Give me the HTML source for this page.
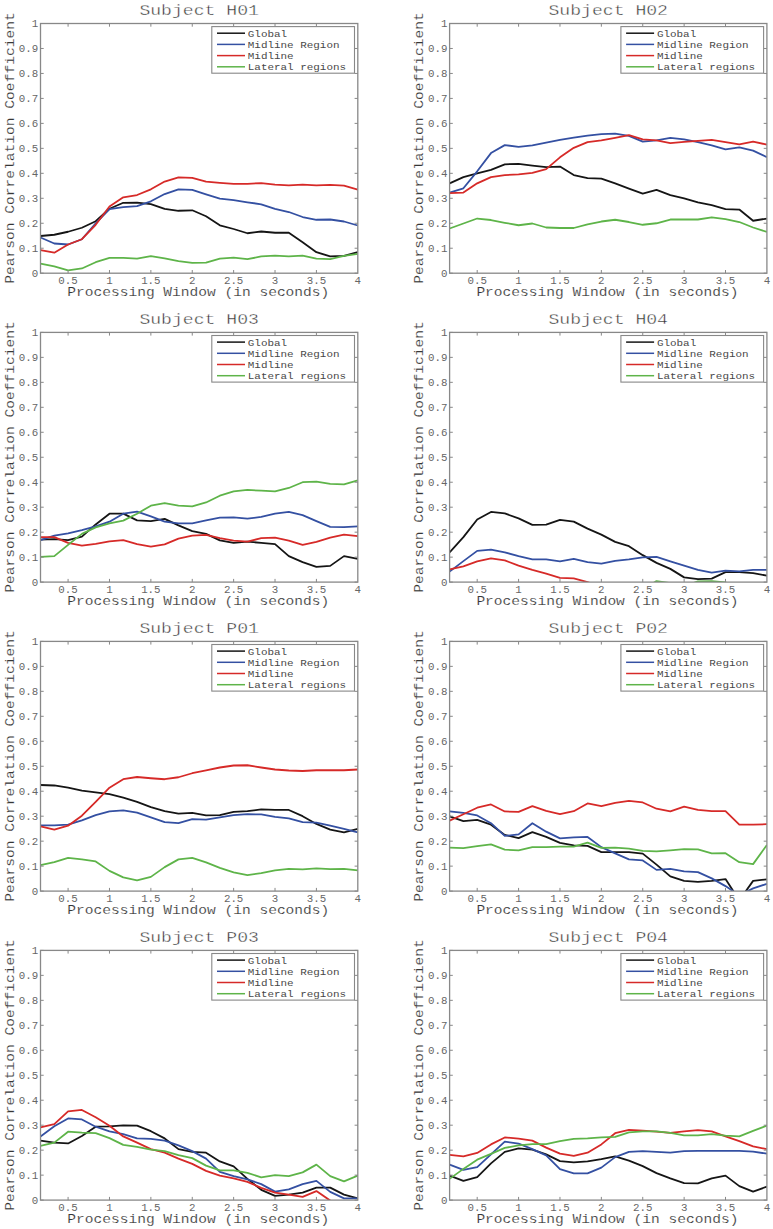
<!DOCTYPE html>
<html><head><meta charset="utf-8"><style>
html,body{margin:0;padding:0;background:#fff;}
svg{display:block;font-family:"Liberation Mono", monospace;}
text{fill:#363636;} .e{stroke:#fff;stroke-width:0.15px;} .s{fill:#666;} .t{fill:#2e2e2e;stroke:#fff;stroke-width:0.4px;} .lg{fill:#474747;}
</style></head><body>
<svg width="773" height="1229" viewBox="0 0 773 1229">
<defs><clipPath id="c0"><rect x="40.50" y="23.50" width="317.30" height="249.70"/></clipPath><clipPath id="c1"><rect x="449.60" y="23.50" width="317.30" height="249.70"/></clipPath><clipPath id="c2"><rect x="40.50" y="332.40" width="317.30" height="249.70"/></clipPath><clipPath id="c3"><rect x="449.60" y="332.40" width="317.30" height="249.70"/></clipPath><clipPath id="c4"><rect x="40.50" y="641.40" width="317.30" height="249.70"/></clipPath><clipPath id="c5"><rect x="449.60" y="641.40" width="317.30" height="249.70"/></clipPath><clipPath id="c6"><rect x="40.50" y="950.40" width="317.30" height="249.70"/></clipPath><clipPath id="c7"><rect x="449.60" y="950.40" width="317.30" height="249.70"/></clipPath></defs>
<rect width="773" height="1229" fill="#fff"/>
<g><text class="t" x="199.15" y="14.80" font-size="15.0" text-anchor="middle" textLength="119.5" lengthAdjust="spacingAndGlyphs">Subject H01</text><g clip-path="url(#c0)" fill="none" stroke-width="1.8" stroke-linejoin="round"><polyline points="40.50,235.99 54.30,234.75 68.09,231.75 81.89,227.75 95.68,221.26 109.48,208.78 123.27,202.78 137.07,202.53 150.87,204.03 164.66,208.78 178.46,210.77 192.25,210.28 206.05,216.27 219.84,225.26 233.64,229.00 247.43,233.25 261.23,231.50 275.03,232.75 288.82,232.75 302.62,242.24 316.41,252.23 330.21,256.47 344.00,255.97 357.80,252.23" stroke="#151515"/><polyline points="40.50,237.49 54.30,243.49 68.09,244.48 81.89,239.24 95.68,223.26 109.48,209.03 123.27,207.03 137.07,206.03 150.87,201.29 164.66,194.05 178.46,189.30 192.25,189.80 206.05,194.29 219.84,198.54 233.64,200.04 247.43,202.29 261.23,204.28 275.03,208.78 288.82,212.02 302.62,217.02 316.41,219.76 330.21,219.51 344.00,221.51 357.80,225.51" stroke="#3450a2"/><polyline points="40.50,250.10 54.30,252.72 68.09,244.48 81.89,239.24 95.68,224.76 109.48,206.53 123.27,197.29 137.07,195.04 150.87,189.30 164.66,181.56 178.46,177.32 192.25,177.81 206.05,181.56 219.84,182.81 233.64,183.81 247.43,183.81 261.23,183.06 275.03,184.56 288.82,185.31 302.62,184.56 316.41,185.31 330.21,184.81 344.00,185.56 357.80,189.55" stroke="#d62a28"/><polyline points="40.50,263.71 54.30,266.46 68.09,270.45 81.89,268.46 95.68,262.21 109.48,257.97 123.27,257.97 137.07,258.72 150.87,256.22 164.66,258.47 178.46,261.21 192.25,262.96 206.05,262.71 219.84,258.72 233.64,257.72 247.43,259.22 261.23,256.47 275.03,255.72 288.82,256.47 302.62,255.72 316.41,258.72 330.21,259.22 344.00,255.97 357.80,253.97" stroke="#5eb449"/></g><rect x="40.50" y="23.50" width="317.30" height="249.70" fill="none" stroke="#888888" stroke-width="1.3"/><path d="M68.09,273.20v-3.2M68.09,23.50v3.2M109.48,273.20v-3.2M109.48,23.50v3.2M150.87,273.20v-3.2M150.87,23.50v3.2M192.25,273.20v-3.2M192.25,23.50v3.2M233.64,273.20v-3.2M233.64,23.50v3.2M275.03,273.20v-3.2M275.03,23.50v3.2M316.41,273.20v-3.2M316.41,23.50v3.2M40.50,273.20h3.2M357.80,273.20h-3.2M40.50,248.23h3.2M357.80,248.23h-3.2M40.50,223.26h3.2M357.80,223.26h-3.2M40.50,198.29h3.2M357.80,198.29h-3.2M40.50,173.32h3.2M357.80,173.32h-3.2M40.50,148.35h3.2M357.80,148.35h-3.2M40.50,123.38h3.2M357.80,123.38h-3.2M40.50,98.41h3.2M357.80,98.41h-3.2M40.50,73.44h3.2M357.80,73.44h-3.2M40.50,48.47h3.2M357.80,48.47h-3.2M40.50,23.50h3.2M357.80,23.50h-3.2" stroke="#888888" stroke-width="1" fill="none"/><text class="s" x="68.09" y="284.40" font-size="10.8" text-anchor="middle">0.5</text><text class="s" x="109.48" y="284.40" font-size="10.8" text-anchor="middle">1</text><text class="s" x="150.87" y="284.40" font-size="10.8" text-anchor="middle">1.5</text><text class="s" x="192.25" y="284.40" font-size="10.8" text-anchor="middle">2</text><text class="s" x="233.64" y="284.40" font-size="10.8" text-anchor="middle">2.5</text><text class="s" x="275.03" y="284.40" font-size="10.8" text-anchor="middle">3</text><text class="s" x="316.41" y="284.40" font-size="10.8" text-anchor="middle">3.5</text><text class="s" x="357.80" y="284.40" font-size="10.8" text-anchor="middle">4</text><text class="s" x="38.30" y="276.80" font-size="10.8" text-anchor="end">0</text><text class="s" x="38.30" y="251.83" font-size="10.8" text-anchor="end">0.1</text><text class="s" x="38.30" y="226.86" font-size="10.8" text-anchor="end">0.2</text><text class="s" x="38.30" y="201.89" font-size="10.8" text-anchor="end">0.3</text><text class="s" x="38.30" y="176.92" font-size="10.8" text-anchor="end">0.4</text><text class="s" x="38.30" y="151.95" font-size="10.8" text-anchor="end">0.5</text><text class="s" x="38.30" y="126.98" font-size="10.8" text-anchor="end">0.6</text><text class="s" x="38.30" y="102.01" font-size="10.8" text-anchor="end">0.7</text><text class="s" x="38.30" y="77.04" font-size="10.8" text-anchor="end">0.8</text><text class="s" x="38.30" y="52.07" font-size="10.8" text-anchor="end">0.9</text><text class="s" x="38.30" y="27.10" font-size="10.8" text-anchor="end">1</text><text class="e" x="67.30" y="296.00" font-size="13.0" textLength="262.0" lengthAdjust="spacingAndGlyphs">Processing Window (in seconds)</text><text class="e" transform="translate(13.70,283.80) rotate(-90)" font-size="13.0" textLength="271.5" lengthAdjust="spacingAndGlyphs">Pearson Correlation Coefficient</text><rect x="211.80" y="26.60" width="142.70" height="46.60" fill="#fff" stroke="#888888" stroke-width="1.1"/><line x1="217.00" x2="245.00" y1="33.20" y2="33.20" stroke="#151515" stroke-width="1.5"/><text class="lg" x="247.80" y="36.70" font-size="9.8" textLength="39.30" lengthAdjust="spacingAndGlyphs">Global</text><line x1="217.00" x2="245.00" y1="44.40" y2="44.40" stroke="#3450a2" stroke-width="1.5"/><text class="lg" x="247.80" y="47.90" font-size="9.8" textLength="91.70" lengthAdjust="spacingAndGlyphs">Midline Region</text><line x1="217.00" x2="245.00" y1="55.60" y2="55.60" stroke="#d62a28" stroke-width="1.5"/><text class="lg" x="247.80" y="59.10" font-size="9.8" textLength="45.85" lengthAdjust="spacingAndGlyphs">Midline</text><line x1="217.00" x2="245.00" y1="66.80" y2="66.80" stroke="#5eb449" stroke-width="1.5"/><text class="lg" x="247.80" y="70.30" font-size="9.8" textLength="98.25" lengthAdjust="spacingAndGlyphs">Lateral regions</text></g><g><text class="t" x="608.25" y="14.80" font-size="15.0" text-anchor="middle" textLength="119.5" lengthAdjust="spacingAndGlyphs">Subject H02</text><g clip-path="url(#c1)" fill="none" stroke-width="1.8" stroke-linejoin="round"><polyline points="449.60,183.31 463.40,177.07 477.19,173.32 490.99,169.82 504.78,164.33 518.58,163.83 532.37,165.58 546.17,167.08 559.97,166.58 573.76,175.07 587.56,178.06 601.35,178.56 615.15,183.31 628.94,188.55 642.74,193.55 656.53,189.80 670.33,195.04 684.13,198.29 697.92,202.29 711.72,205.03 725.51,209.03 739.31,209.53 753.10,220.76 766.90,218.52" stroke="#151515"/><polyline points="449.60,192.55 463.40,188.30 477.19,171.32 490.99,153.09 504.78,145.10 518.58,146.85 532.37,145.35 546.17,142.61 559.97,139.86 573.76,137.61 587.56,135.62 601.35,134.12 615.15,133.62 628.94,135.86 642.74,141.61 656.53,140.36 670.33,137.86 684.13,139.36 697.92,142.11 711.72,145.35 725.51,149.35 739.31,147.35 753.10,150.60 766.90,157.09" stroke="#3450a2"/><polyline points="449.60,193.05 463.40,192.55 477.19,183.31 490.99,177.07 504.78,175.07 518.58,174.32 532.37,172.82 546.17,169.08 559.97,157.34 573.76,147.85 587.56,142.11 601.35,140.36 615.15,137.86 628.94,135.12 642.74,139.36 656.53,140.36 670.33,143.11 684.13,141.86 697.92,140.86 711.72,139.86 725.51,142.11 739.31,144.35 753.10,141.61 766.90,144.60" stroke="#d62a28"/><polyline points="449.60,228.50 463.40,223.51 477.19,218.52 490.99,220.01 504.78,222.76 518.58,225.26 532.37,223.51 546.17,227.50 559.97,228.00 573.76,228.00 587.56,224.26 601.35,221.51 615.15,219.76 628.94,222.01 642.74,224.76 656.53,223.26 670.33,219.51 684.13,219.51 697.92,219.51 711.72,217.27 725.51,219.02 739.31,222.01 753.10,227.50 766.90,232.00" stroke="#5eb449"/></g><rect x="449.60" y="23.50" width="317.30" height="249.70" fill="none" stroke="#888888" stroke-width="1.3"/><path d="M477.19,273.20v-3.2M477.19,23.50v3.2M518.58,273.20v-3.2M518.58,23.50v3.2M559.97,273.20v-3.2M559.97,23.50v3.2M601.35,273.20v-3.2M601.35,23.50v3.2M642.74,273.20v-3.2M642.74,23.50v3.2M684.13,273.20v-3.2M684.13,23.50v3.2M725.51,273.20v-3.2M725.51,23.50v3.2M449.60,273.20h3.2M766.90,273.20h-3.2M449.60,248.23h3.2M766.90,248.23h-3.2M449.60,223.26h3.2M766.90,223.26h-3.2M449.60,198.29h3.2M766.90,198.29h-3.2M449.60,173.32h3.2M766.90,173.32h-3.2M449.60,148.35h3.2M766.90,148.35h-3.2M449.60,123.38h3.2M766.90,123.38h-3.2M449.60,98.41h3.2M766.90,98.41h-3.2M449.60,73.44h3.2M766.90,73.44h-3.2M449.60,48.47h3.2M766.90,48.47h-3.2M449.60,23.50h3.2M766.90,23.50h-3.2" stroke="#888888" stroke-width="1" fill="none"/><text class="s" x="477.19" y="284.40" font-size="10.8" text-anchor="middle">0.5</text><text class="s" x="518.58" y="284.40" font-size="10.8" text-anchor="middle">1</text><text class="s" x="559.97" y="284.40" font-size="10.8" text-anchor="middle">1.5</text><text class="s" x="601.35" y="284.40" font-size="10.8" text-anchor="middle">2</text><text class="s" x="642.74" y="284.40" font-size="10.8" text-anchor="middle">2.5</text><text class="s" x="684.13" y="284.40" font-size="10.8" text-anchor="middle">3</text><text class="s" x="725.51" y="284.40" font-size="10.8" text-anchor="middle">3.5</text><text class="s" x="766.90" y="284.40" font-size="10.8" text-anchor="middle">4</text><text class="s" x="447.40" y="276.80" font-size="10.8" text-anchor="end">0</text><text class="s" x="447.40" y="251.83" font-size="10.8" text-anchor="end">0.1</text><text class="s" x="447.40" y="226.86" font-size="10.8" text-anchor="end">0.2</text><text class="s" x="447.40" y="201.89" font-size="10.8" text-anchor="end">0.3</text><text class="s" x="447.40" y="176.92" font-size="10.8" text-anchor="end">0.4</text><text class="s" x="447.40" y="151.95" font-size="10.8" text-anchor="end">0.5</text><text class="s" x="447.40" y="126.98" font-size="10.8" text-anchor="end">0.6</text><text class="s" x="447.40" y="102.01" font-size="10.8" text-anchor="end">0.7</text><text class="s" x="447.40" y="77.04" font-size="10.8" text-anchor="end">0.8</text><text class="s" x="447.40" y="52.07" font-size="10.8" text-anchor="end">0.9</text><text class="s" x="447.40" y="27.10" font-size="10.8" text-anchor="end">1</text><text class="e" x="476.40" y="296.00" font-size="13.0" textLength="262.0" lengthAdjust="spacingAndGlyphs">Processing Window (in seconds)</text><text class="e" transform="translate(422.80,283.80) rotate(-90)" font-size="13.0" textLength="271.5" lengthAdjust="spacingAndGlyphs">Pearson Correlation Coefficient</text><rect x="620.90" y="26.60" width="142.70" height="46.60" fill="#fff" stroke="#888888" stroke-width="1.1"/><line x1="626.10" x2="654.10" y1="33.20" y2="33.20" stroke="#151515" stroke-width="1.5"/><text class="lg" x="656.90" y="36.70" font-size="9.8" textLength="39.30" lengthAdjust="spacingAndGlyphs">Global</text><line x1="626.10" x2="654.10" y1="44.40" y2="44.40" stroke="#3450a2" stroke-width="1.5"/><text class="lg" x="656.90" y="47.90" font-size="9.8" textLength="91.70" lengthAdjust="spacingAndGlyphs">Midline Region</text><line x1="626.10" x2="654.10" y1="55.60" y2="55.60" stroke="#d62a28" stroke-width="1.5"/><text class="lg" x="656.90" y="59.10" font-size="9.8" textLength="45.85" lengthAdjust="spacingAndGlyphs">Midline</text><line x1="626.10" x2="654.10" y1="66.80" y2="66.80" stroke="#5eb449" stroke-width="1.5"/><text class="lg" x="656.90" y="70.30" font-size="9.8" textLength="98.25" lengthAdjust="spacingAndGlyphs">Lateral regions</text></g><g><text class="t" x="199.15" y="323.70" font-size="15.0" text-anchor="middle" textLength="119.5" lengthAdjust="spacingAndGlyphs">Subject H03</text><g clip-path="url(#c2)" fill="none" stroke-width="1.8" stroke-linejoin="round"><polyline points="40.50,539.65 54.30,539.15 68.09,540.15 81.89,536.65 95.68,524.42 109.48,513.68 123.27,513.68 137.07,520.42 150.87,521.17 164.66,518.93 178.46,525.42 192.25,531.16 206.05,533.91 219.84,540.40 233.64,542.90 247.43,541.65 261.23,542.90 275.03,544.15 288.82,556.13 302.62,562.12 316.41,566.87 330.21,565.87 344.00,556.13 357.80,558.88" stroke="#151515"/><polyline points="40.50,540.15 54.30,535.66 68.09,533.41 81.89,530.16 95.68,526.42 109.48,521.67 123.27,513.68 137.07,511.68 150.87,516.43 164.66,521.67 178.46,523.42 192.25,523.42 206.05,520.42 219.84,517.68 233.64,517.43 247.43,518.68 261.23,516.93 275.03,513.68 288.82,511.93 302.62,515.18 316.41,521.17 330.21,526.92 344.00,527.17 357.80,526.42" stroke="#3450a2"/><polyline points="40.50,537.15 54.30,537.15 68.09,542.90 81.89,545.64 95.68,543.90 109.48,541.40 123.27,540.15 137.07,544.15 150.87,546.64 164.66,544.40 178.46,538.65 192.25,535.66 206.05,534.91 219.84,538.15 233.64,540.65 247.43,541.65 261.23,538.15 275.03,537.65 288.82,540.65 302.62,544.89 316.41,541.90 330.21,537.65 344.00,534.66 357.80,536.16" stroke="#d62a28"/><polyline points="40.50,556.88 54.30,556.13 68.09,544.89 81.89,533.91 95.68,527.42 109.48,523.42 123.27,520.67 137.07,513.68 150.87,505.69 164.66,503.19 178.46,505.69 192.25,506.44 206.05,502.45 219.84,495.70 233.64,491.46 247.43,489.96 261.23,490.71 275.03,491.46 288.82,487.96 302.62,482.22 316.41,481.72 330.21,483.97 344.00,484.47 357.80,480.47" stroke="#5eb449"/></g><rect x="40.50" y="332.40" width="317.30" height="249.70" fill="none" stroke="#888888" stroke-width="1.3"/><path d="M68.09,582.10v-3.2M68.09,332.40v3.2M109.48,582.10v-3.2M109.48,332.40v3.2M150.87,582.10v-3.2M150.87,332.40v3.2M192.25,582.10v-3.2M192.25,332.40v3.2M233.64,582.10v-3.2M233.64,332.40v3.2M275.03,582.10v-3.2M275.03,332.40v3.2M316.41,582.10v-3.2M316.41,332.40v3.2M40.50,582.10h3.2M357.80,582.10h-3.2M40.50,557.13h3.2M357.80,557.13h-3.2M40.50,532.16h3.2M357.80,532.16h-3.2M40.50,507.19h3.2M357.80,507.19h-3.2M40.50,482.22h3.2M357.80,482.22h-3.2M40.50,457.25h3.2M357.80,457.25h-3.2M40.50,432.28h3.2M357.80,432.28h-3.2M40.50,407.31h3.2M357.80,407.31h-3.2M40.50,382.34h3.2M357.80,382.34h-3.2M40.50,357.37h3.2M357.80,357.37h-3.2M40.50,332.40h3.2M357.80,332.40h-3.2" stroke="#888888" stroke-width="1" fill="none"/><text class="s" x="68.09" y="593.30" font-size="10.8" text-anchor="middle">0.5</text><text class="s" x="109.48" y="593.30" font-size="10.8" text-anchor="middle">1</text><text class="s" x="150.87" y="593.30" font-size="10.8" text-anchor="middle">1.5</text><text class="s" x="192.25" y="593.30" font-size="10.8" text-anchor="middle">2</text><text class="s" x="233.64" y="593.30" font-size="10.8" text-anchor="middle">2.5</text><text class="s" x="275.03" y="593.30" font-size="10.8" text-anchor="middle">3</text><text class="s" x="316.41" y="593.30" font-size="10.8" text-anchor="middle">3.5</text><text class="s" x="357.80" y="593.30" font-size="10.8" text-anchor="middle">4</text><text class="s" x="38.30" y="585.70" font-size="10.8" text-anchor="end">0</text><text class="s" x="38.30" y="560.73" font-size="10.8" text-anchor="end">0.1</text><text class="s" x="38.30" y="535.76" font-size="10.8" text-anchor="end">0.2</text><text class="s" x="38.30" y="510.79" font-size="10.8" text-anchor="end">0.3</text><text class="s" x="38.30" y="485.82" font-size="10.8" text-anchor="end">0.4</text><text class="s" x="38.30" y="460.85" font-size="10.8" text-anchor="end">0.5</text><text class="s" x="38.30" y="435.88" font-size="10.8" text-anchor="end">0.6</text><text class="s" x="38.30" y="410.91" font-size="10.8" text-anchor="end">0.7</text><text class="s" x="38.30" y="385.94" font-size="10.8" text-anchor="end">0.8</text><text class="s" x="38.30" y="360.97" font-size="10.8" text-anchor="end">0.9</text><text class="s" x="38.30" y="336.00" font-size="10.8" text-anchor="end">1</text><text class="e" x="67.30" y="604.90" font-size="13.0" textLength="262.0" lengthAdjust="spacingAndGlyphs">Processing Window (in seconds)</text><text class="e" transform="translate(13.70,592.70) rotate(-90)" font-size="13.0" textLength="271.5" lengthAdjust="spacingAndGlyphs">Pearson Correlation Coefficient</text><rect x="211.80" y="335.50" width="142.70" height="46.60" fill="#fff" stroke="#888888" stroke-width="1.1"/><line x1="217.00" x2="245.00" y1="342.10" y2="342.10" stroke="#151515" stroke-width="1.5"/><text class="lg" x="247.80" y="345.60" font-size="9.8" textLength="39.30" lengthAdjust="spacingAndGlyphs">Global</text><line x1="217.00" x2="245.00" y1="353.30" y2="353.30" stroke="#3450a2" stroke-width="1.5"/><text class="lg" x="247.80" y="356.80" font-size="9.8" textLength="91.70" lengthAdjust="spacingAndGlyphs">Midline Region</text><line x1="217.00" x2="245.00" y1="364.50" y2="364.50" stroke="#d62a28" stroke-width="1.5"/><text class="lg" x="247.80" y="368.00" font-size="9.8" textLength="45.85" lengthAdjust="spacingAndGlyphs">Midline</text><line x1="217.00" x2="245.00" y1="375.70" y2="375.70" stroke="#5eb449" stroke-width="1.5"/><text class="lg" x="247.80" y="379.20" font-size="9.8" textLength="98.25" lengthAdjust="spacingAndGlyphs">Lateral regions</text></g><g><text class="t" x="608.25" y="323.70" font-size="15.0" text-anchor="middle" textLength="119.5" lengthAdjust="spacingAndGlyphs">Subject H04</text><g clip-path="url(#c3)" fill="none" stroke-width="1.8" stroke-linejoin="round"><polyline points="449.60,552.39 463.40,537.15 477.19,519.43 490.99,511.93 504.78,513.43 518.58,518.43 532.37,524.92 546.17,524.67 559.97,519.92 573.76,521.67 587.56,528.66 601.35,534.66 615.15,541.90 628.94,546.14 642.74,555.13 656.53,562.87 670.33,568.87 684.13,577.36 697.92,579.10 711.72,578.60 725.51,572.11 739.31,572.11 753.10,573.11 766.90,575.61" stroke="#151515"/><polyline points="449.60,571.61 463.40,561.13 477.19,550.89 490.99,549.64 504.78,552.39 518.58,556.13 532.37,559.38 546.17,559.38 559.97,561.37 573.76,558.88 587.56,562.12 601.35,563.62 615.15,560.88 628.94,559.38 642.74,557.38 656.53,556.88 670.33,561.37 684.13,565.62 697.92,569.86 711.72,572.61 725.51,570.61 739.31,571.36 753.10,569.86 766.90,569.86" stroke="#3450a2"/><polyline points="449.60,569.37 463.40,566.37 477.19,561.37 490.99,558.38 504.78,560.38 518.58,565.62 532.37,569.86 546.17,573.61 559.97,577.86 573.76,578.35 587.56,582.10 601.35,587.09 615.15,592.09 628.94,594.59 642.74,594.59 656.53,594.59 670.33,594.59 684.13,594.59 697.92,594.59 711.72,594.59 725.51,594.59 739.31,594.59 753.10,594.59 766.90,594.59" stroke="#d62a28"/><polyline points="449.60,594.59 463.40,594.59 477.19,594.59 490.99,594.59 504.78,594.59 518.58,594.59 532.37,594.59 546.17,594.59 559.97,594.59 573.76,594.59 587.56,594.59 601.35,594.59 615.15,594.59 628.94,594.59 642.74,589.34 656.53,581.10 670.33,583.10 684.13,586.34 697.92,581.35 711.72,581.10 725.51,582.35 739.31,589.59 753.10,594.59 766.90,594.59" stroke="#5eb449"/></g><rect x="449.60" y="332.40" width="317.30" height="249.70" fill="none" stroke="#888888" stroke-width="1.3"/><path d="M477.19,582.10v-3.2M477.19,332.40v3.2M518.58,582.10v-3.2M518.58,332.40v3.2M559.97,582.10v-3.2M559.97,332.40v3.2M601.35,582.10v-3.2M601.35,332.40v3.2M642.74,582.10v-3.2M642.74,332.40v3.2M684.13,582.10v-3.2M684.13,332.40v3.2M725.51,582.10v-3.2M725.51,332.40v3.2M449.60,582.10h3.2M766.90,582.10h-3.2M449.60,557.13h3.2M766.90,557.13h-3.2M449.60,532.16h3.2M766.90,532.16h-3.2M449.60,507.19h3.2M766.90,507.19h-3.2M449.60,482.22h3.2M766.90,482.22h-3.2M449.60,457.25h3.2M766.90,457.25h-3.2M449.60,432.28h3.2M766.90,432.28h-3.2M449.60,407.31h3.2M766.90,407.31h-3.2M449.60,382.34h3.2M766.90,382.34h-3.2M449.60,357.37h3.2M766.90,357.37h-3.2M449.60,332.40h3.2M766.90,332.40h-3.2" stroke="#888888" stroke-width="1" fill="none"/><text class="s" x="477.19" y="593.30" font-size="10.8" text-anchor="middle">0.5</text><text class="s" x="518.58" y="593.30" font-size="10.8" text-anchor="middle">1</text><text class="s" x="559.97" y="593.30" font-size="10.8" text-anchor="middle">1.5</text><text class="s" x="601.35" y="593.30" font-size="10.8" text-anchor="middle">2</text><text class="s" x="642.74" y="593.30" font-size="10.8" text-anchor="middle">2.5</text><text class="s" x="684.13" y="593.30" font-size="10.8" text-anchor="middle">3</text><text class="s" x="725.51" y="593.30" font-size="10.8" text-anchor="middle">3.5</text><text class="s" x="766.90" y="593.30" font-size="10.8" text-anchor="middle">4</text><text class="s" x="447.40" y="585.70" font-size="10.8" text-anchor="end">0</text><text class="s" x="447.40" y="560.73" font-size="10.8" text-anchor="end">0.1</text><text class="s" x="447.40" y="535.76" font-size="10.8" text-anchor="end">0.2</text><text class="s" x="447.40" y="510.79" font-size="10.8" text-anchor="end">0.3</text><text class="s" x="447.40" y="485.82" font-size="10.8" text-anchor="end">0.4</text><text class="s" x="447.40" y="460.85" font-size="10.8" text-anchor="end">0.5</text><text class="s" x="447.40" y="435.88" font-size="10.8" text-anchor="end">0.6</text><text class="s" x="447.40" y="410.91" font-size="10.8" text-anchor="end">0.7</text><text class="s" x="447.40" y="385.94" font-size="10.8" text-anchor="end">0.8</text><text class="s" x="447.40" y="360.97" font-size="10.8" text-anchor="end">0.9</text><text class="s" x="447.40" y="336.00" font-size="10.8" text-anchor="end">1</text><text class="e" x="476.40" y="604.90" font-size="13.0" textLength="262.0" lengthAdjust="spacingAndGlyphs">Processing Window (in seconds)</text><text class="e" transform="translate(422.80,592.70) rotate(-90)" font-size="13.0" textLength="271.5" lengthAdjust="spacingAndGlyphs">Pearson Correlation Coefficient</text><rect x="620.90" y="335.50" width="142.70" height="46.60" fill="#fff" stroke="#888888" stroke-width="1.1"/><line x1="626.10" x2="654.10" y1="342.10" y2="342.10" stroke="#151515" stroke-width="1.5"/><text class="lg" x="656.90" y="345.60" font-size="9.8" textLength="39.30" lengthAdjust="spacingAndGlyphs">Global</text><line x1="626.10" x2="654.10" y1="353.30" y2="353.30" stroke="#3450a2" stroke-width="1.5"/><text class="lg" x="656.90" y="356.80" font-size="9.8" textLength="91.70" lengthAdjust="spacingAndGlyphs">Midline Region</text><line x1="626.10" x2="654.10" y1="364.50" y2="364.50" stroke="#d62a28" stroke-width="1.5"/><text class="lg" x="656.90" y="368.00" font-size="9.8" textLength="45.85" lengthAdjust="spacingAndGlyphs">Midline</text><line x1="626.10" x2="654.10" y1="375.70" y2="375.70" stroke="#5eb449" stroke-width="1.5"/><text class="lg" x="656.90" y="379.20" font-size="9.8" textLength="98.25" lengthAdjust="spacingAndGlyphs">Lateral regions</text></g><g><text class="t" x="199.15" y="632.70" font-size="15.0" text-anchor="middle" textLength="119.5" lengthAdjust="spacingAndGlyphs">Subject P01</text><g clip-path="url(#c4)" fill="none" stroke-width="1.8" stroke-linejoin="round"><polyline points="40.50,784.98 54.30,785.48 68.09,787.72 81.89,790.72 95.68,792.47 109.48,794.22 123.27,797.71 137.07,801.96 150.87,807.20 164.66,811.20 178.46,813.69 192.25,812.94 206.05,815.44 219.84,815.19 233.64,811.95 247.43,811.20 261.23,809.45 275.03,809.95 288.82,809.95 302.62,816.19 316.41,823.93 330.21,829.67 344.00,832.42 357.80,828.92" stroke="#151515"/><polyline points="40.50,825.43 54.30,825.43 68.09,824.68 81.89,820.43 95.68,815.19 109.48,811.45 123.27,810.45 137.07,812.69 150.87,817.44 164.66,822.18 178.46,823.18 192.25,819.19 206.05,819.69 219.84,817.44 233.64,815.19 247.43,814.19 261.23,814.44 275.03,816.94 288.82,818.44 302.62,822.18 316.41,822.68 330.21,825.68 344.00,828.92 357.80,832.42" stroke="#3450a2"/><polyline points="40.50,826.43 54.30,829.67 68.09,825.68 81.89,815.69 95.68,801.96 109.48,787.72 123.27,779.23 137.07,776.99 150.87,778.24 164.66,779.23 178.46,777.24 192.25,773.24 206.05,770.49 219.84,767.50 233.64,765.50 247.43,765.25 261.23,767.50 275.03,769.50 288.82,770.49 302.62,770.99 316.41,770.25 330.21,770.25 344.00,770.25 357.80,769.50" stroke="#d62a28"/><polyline points="40.50,865.13 54.30,862.13 68.09,857.89 81.89,859.39 95.68,861.39 109.48,870.87 123.27,877.37 137.07,880.36 150.87,876.87 164.66,867.13 178.46,859.39 192.25,857.89 206.05,862.38 219.84,867.88 233.64,872.37 247.43,875.12 261.23,873.12 275.03,870.37 288.82,868.88 302.62,869.38 316.41,868.38 330.21,869.13 344.00,868.88 357.80,870.37" stroke="#5eb449"/></g><rect x="40.50" y="641.40" width="317.30" height="249.70" fill="none" stroke="#888888" stroke-width="1.3"/><path d="M68.09,891.10v-3.2M68.09,641.40v3.2M109.48,891.10v-3.2M109.48,641.40v3.2M150.87,891.10v-3.2M150.87,641.40v3.2M192.25,891.10v-3.2M192.25,641.40v3.2M233.64,891.10v-3.2M233.64,641.40v3.2M275.03,891.10v-3.2M275.03,641.40v3.2M316.41,891.10v-3.2M316.41,641.40v3.2M40.50,891.10h3.2M357.80,891.10h-3.2M40.50,866.13h3.2M357.80,866.13h-3.2M40.50,841.16h3.2M357.80,841.16h-3.2M40.50,816.19h3.2M357.80,816.19h-3.2M40.50,791.22h3.2M357.80,791.22h-3.2M40.50,766.25h3.2M357.80,766.25h-3.2M40.50,741.28h3.2M357.80,741.28h-3.2M40.50,716.31h3.2M357.80,716.31h-3.2M40.50,691.34h3.2M357.80,691.34h-3.2M40.50,666.37h3.2M357.80,666.37h-3.2M40.50,641.40h3.2M357.80,641.40h-3.2" stroke="#888888" stroke-width="1" fill="none"/><text class="s" x="68.09" y="902.30" font-size="10.8" text-anchor="middle">0.5</text><text class="s" x="109.48" y="902.30" font-size="10.8" text-anchor="middle">1</text><text class="s" x="150.87" y="902.30" font-size="10.8" text-anchor="middle">1.5</text><text class="s" x="192.25" y="902.30" font-size="10.8" text-anchor="middle">2</text><text class="s" x="233.64" y="902.30" font-size="10.8" text-anchor="middle">2.5</text><text class="s" x="275.03" y="902.30" font-size="10.8" text-anchor="middle">3</text><text class="s" x="316.41" y="902.30" font-size="10.8" text-anchor="middle">3.5</text><text class="s" x="357.80" y="902.30" font-size="10.8" text-anchor="middle">4</text><text class="s" x="38.30" y="894.70" font-size="10.8" text-anchor="end">0</text><text class="s" x="38.30" y="869.73" font-size="10.8" text-anchor="end">0.1</text><text class="s" x="38.30" y="844.76" font-size="10.8" text-anchor="end">0.2</text><text class="s" x="38.30" y="819.79" font-size="10.8" text-anchor="end">0.3</text><text class="s" x="38.30" y="794.82" font-size="10.8" text-anchor="end">0.4</text><text class="s" x="38.30" y="769.85" font-size="10.8" text-anchor="end">0.5</text><text class="s" x="38.30" y="744.88" font-size="10.8" text-anchor="end">0.6</text><text class="s" x="38.30" y="719.91" font-size="10.8" text-anchor="end">0.7</text><text class="s" x="38.30" y="694.94" font-size="10.8" text-anchor="end">0.8</text><text class="s" x="38.30" y="669.97" font-size="10.8" text-anchor="end">0.9</text><text class="s" x="38.30" y="645.00" font-size="10.8" text-anchor="end">1</text><text class="e" x="67.30" y="913.90" font-size="13.0" textLength="262.0" lengthAdjust="spacingAndGlyphs">Processing Window (in seconds)</text><text class="e" transform="translate(13.70,901.70) rotate(-90)" font-size="13.0" textLength="271.5" lengthAdjust="spacingAndGlyphs">Pearson Correlation Coefficient</text><rect x="211.80" y="644.50" width="142.70" height="46.60" fill="#fff" stroke="#888888" stroke-width="1.1"/><line x1="217.00" x2="245.00" y1="651.10" y2="651.10" stroke="#151515" stroke-width="1.5"/><text class="lg" x="247.80" y="654.60" font-size="9.8" textLength="39.30" lengthAdjust="spacingAndGlyphs">Global</text><line x1="217.00" x2="245.00" y1="662.30" y2="662.30" stroke="#3450a2" stroke-width="1.5"/><text class="lg" x="247.80" y="665.80" font-size="9.8" textLength="91.70" lengthAdjust="spacingAndGlyphs">Midline Region</text><line x1="217.00" x2="245.00" y1="673.50" y2="673.50" stroke="#d62a28" stroke-width="1.5"/><text class="lg" x="247.80" y="677.00" font-size="9.8" textLength="45.85" lengthAdjust="spacingAndGlyphs">Midline</text><line x1="217.00" x2="245.00" y1="684.70" y2="684.70" stroke="#5eb449" stroke-width="1.5"/><text class="lg" x="247.80" y="688.20" font-size="9.8" textLength="98.25" lengthAdjust="spacingAndGlyphs">Lateral regions</text></g><g><text class="t" x="608.25" y="632.70" font-size="15.0" text-anchor="middle" textLength="119.5" lengthAdjust="spacingAndGlyphs">Subject P02</text><g clip-path="url(#c5)" fill="none" stroke-width="1.8" stroke-linejoin="round"><polyline points="449.60,816.44 463.40,821.18 477.19,819.94 490.99,824.68 504.78,834.92 518.58,838.16 532.37,832.17 546.17,836.92 559.97,842.91 573.76,845.40 587.56,845.90 601.35,852.15 615.15,852.15 628.94,852.15 642.74,853.64 656.53,864.63 670.33,876.37 684.13,880.86 697.92,881.86 711.72,880.86 725.51,879.11 739.31,900.34 753.10,880.86 766.90,879.36" stroke="#151515"/><polyline points="449.60,811.45 463.40,812.94 477.19,815.44 490.99,823.18 504.78,835.92 518.58,834.42 532.37,823.18 546.17,831.67 559.97,838.41 573.76,837.41 587.56,836.92 601.35,847.15 615.15,853.40 628.94,859.39 642.74,860.39 656.53,869.88 670.33,868.88 684.13,871.37 697.92,872.12 711.72,878.37 725.51,886.11 739.31,895.34 753.10,888.35 766.90,883.86" stroke="#3450a2"/><polyline points="449.60,820.68 463.40,814.19 477.19,807.70 490.99,804.45 504.78,811.45 518.58,811.95 532.37,806.20 546.17,810.95 559.97,814.19 573.76,811.20 587.56,803.46 601.35,806.20 615.15,802.96 628.94,800.96 642.74,802.46 656.53,808.70 670.33,811.45 684.13,806.70 697.92,809.95 711.72,811.20 725.51,811.20 739.31,824.68 753.10,824.68 766.90,824.18" stroke="#d62a28"/><polyline points="449.60,847.65 463.40,848.15 477.19,846.15 490.99,844.41 504.78,849.65 518.58,850.40 532.37,847.15 546.17,847.15 559.97,846.65 573.76,846.65 587.56,842.66 601.35,847.90 615.15,847.65 628.94,848.65 642.74,850.90 656.53,851.40 670.33,850.40 684.13,849.15 697.92,849.40 711.72,853.40 725.51,853.15 739.31,862.13 753.10,864.13 766.90,844.91" stroke="#5eb449"/></g><rect x="449.60" y="641.40" width="317.30" height="249.70" fill="none" stroke="#888888" stroke-width="1.3"/><path d="M477.19,891.10v-3.2M477.19,641.40v3.2M518.58,891.10v-3.2M518.58,641.40v3.2M559.97,891.10v-3.2M559.97,641.40v3.2M601.35,891.10v-3.2M601.35,641.40v3.2M642.74,891.10v-3.2M642.74,641.40v3.2M684.13,891.10v-3.2M684.13,641.40v3.2M725.51,891.10v-3.2M725.51,641.40v3.2M449.60,891.10h3.2M766.90,891.10h-3.2M449.60,866.13h3.2M766.90,866.13h-3.2M449.60,841.16h3.2M766.90,841.16h-3.2M449.60,816.19h3.2M766.90,816.19h-3.2M449.60,791.22h3.2M766.90,791.22h-3.2M449.60,766.25h3.2M766.90,766.25h-3.2M449.60,741.28h3.2M766.90,741.28h-3.2M449.60,716.31h3.2M766.90,716.31h-3.2M449.60,691.34h3.2M766.90,691.34h-3.2M449.60,666.37h3.2M766.90,666.37h-3.2M449.60,641.40h3.2M766.90,641.40h-3.2" stroke="#888888" stroke-width="1" fill="none"/><text class="s" x="477.19" y="902.30" font-size="10.8" text-anchor="middle">0.5</text><text class="s" x="518.58" y="902.30" font-size="10.8" text-anchor="middle">1</text><text class="s" x="559.97" y="902.30" font-size="10.8" text-anchor="middle">1.5</text><text class="s" x="601.35" y="902.30" font-size="10.8" text-anchor="middle">2</text><text class="s" x="642.74" y="902.30" font-size="10.8" text-anchor="middle">2.5</text><text class="s" x="684.13" y="902.30" font-size="10.8" text-anchor="middle">3</text><text class="s" x="725.51" y="902.30" font-size="10.8" text-anchor="middle">3.5</text><text class="s" x="766.90" y="902.30" font-size="10.8" text-anchor="middle">4</text><text class="s" x="447.40" y="894.70" font-size="10.8" text-anchor="end">0</text><text class="s" x="447.40" y="869.73" font-size="10.8" text-anchor="end">0.1</text><text class="s" x="447.40" y="844.76" font-size="10.8" text-anchor="end">0.2</text><text class="s" x="447.40" y="819.79" font-size="10.8" text-anchor="end">0.3</text><text class="s" x="447.40" y="794.82" font-size="10.8" text-anchor="end">0.4</text><text class="s" x="447.40" y="769.85" font-size="10.8" text-anchor="end">0.5</text><text class="s" x="447.40" y="744.88" font-size="10.8" text-anchor="end">0.6</text><text class="s" x="447.40" y="719.91" font-size="10.8" text-anchor="end">0.7</text><text class="s" x="447.40" y="694.94" font-size="10.8" text-anchor="end">0.8</text><text class="s" x="447.40" y="669.97" font-size="10.8" text-anchor="end">0.9</text><text class="s" x="447.40" y="645.00" font-size="10.8" text-anchor="end">1</text><text class="e" x="476.40" y="913.90" font-size="13.0" textLength="262.0" lengthAdjust="spacingAndGlyphs">Processing Window (in seconds)</text><text class="e" transform="translate(422.80,901.70) rotate(-90)" font-size="13.0" textLength="271.5" lengthAdjust="spacingAndGlyphs">Pearson Correlation Coefficient</text><rect x="620.90" y="644.50" width="142.70" height="46.60" fill="#fff" stroke="#888888" stroke-width="1.1"/><line x1="626.10" x2="654.10" y1="651.10" y2="651.10" stroke="#151515" stroke-width="1.5"/><text class="lg" x="656.90" y="654.60" font-size="9.8" textLength="39.30" lengthAdjust="spacingAndGlyphs">Global</text><line x1="626.10" x2="654.10" y1="662.30" y2="662.30" stroke="#3450a2" stroke-width="1.5"/><text class="lg" x="656.90" y="665.80" font-size="9.8" textLength="91.70" lengthAdjust="spacingAndGlyphs">Midline Region</text><line x1="626.10" x2="654.10" y1="673.50" y2="673.50" stroke="#d62a28" stroke-width="1.5"/><text class="lg" x="656.90" y="677.00" font-size="9.8" textLength="45.85" lengthAdjust="spacingAndGlyphs">Midline</text><line x1="626.10" x2="654.10" y1="684.70" y2="684.70" stroke="#5eb449" stroke-width="1.5"/><text class="lg" x="656.90" y="688.20" font-size="9.8" textLength="98.25" lengthAdjust="spacingAndGlyphs">Lateral regions</text></g><g><text class="t" x="199.15" y="941.70" font-size="15.0" text-anchor="middle" textLength="119.5" lengthAdjust="spacingAndGlyphs">Subject P03</text><g clip-path="url(#c6)" fill="none" stroke-width="1.8" stroke-linejoin="round"><polyline points="40.50,1140.67 54.30,1142.67 68.09,1143.42 81.89,1135.93 95.68,1126.69 109.48,1126.44 123.27,1125.44 137.07,1125.69 150.87,1131.18 164.66,1138.42 178.46,1149.16 192.25,1151.91 206.05,1152.66 219.84,1161.40 233.64,1166.39 247.43,1178.88 261.23,1189.86 275.03,1195.86 288.82,1194.61 302.62,1192.61 316.41,1187.62 330.21,1187.62 344.00,1194.61 357.80,1198.35" stroke="#151515"/><polyline points="40.50,1136.43 54.30,1126.19 68.09,1118.45 81.89,1119.45 95.68,1126.69 109.48,1131.43 123.27,1134.18 137.07,1138.42 150.87,1138.92 164.66,1140.67 178.46,1145.42 192.25,1151.16 206.05,1158.65 219.84,1171.88 233.64,1176.13 247.43,1179.37 261.23,1184.12 275.03,1191.61 288.82,1189.36 302.62,1184.12 316.41,1180.87 330.21,1191.86 344.00,1198.35 357.80,1198.35" stroke="#3450a2"/><polyline points="40.50,1127.44 54.30,1124.19 68.09,1111.46 81.89,1109.96 95.68,1117.20 109.48,1125.69 123.27,1136.43 137.07,1142.67 150.87,1149.16 164.66,1152.66 178.46,1158.65 192.25,1163.89 206.05,1170.89 219.84,1175.63 233.64,1178.38 247.43,1181.87 261.23,1187.86 275.03,1192.61 288.82,1194.61 302.62,1196.85 316.41,1191.11 330.21,1200.60 344.00,1207.59 357.80,1210.09" stroke="#d62a28"/><polyline points="40.50,1145.92 54.30,1142.67 68.09,1131.68 81.89,1132.68 95.68,1133.18 109.48,1138.17 123.27,1144.92 137.07,1146.91 150.87,1149.66 164.66,1151.16 178.46,1155.15 192.25,1158.15 206.05,1165.64 219.84,1170.39 233.64,1170.39 247.43,1172.88 261.23,1177.38 275.03,1175.13 288.82,1176.13 302.62,1172.38 316.41,1164.64 330.21,1176.13 344.00,1181.37 357.80,1175.63" stroke="#5eb449"/></g><rect x="40.50" y="950.40" width="317.30" height="249.70" fill="none" stroke="#888888" stroke-width="1.3"/><path d="M68.09,1200.10v-3.2M68.09,950.40v3.2M109.48,1200.10v-3.2M109.48,950.40v3.2M150.87,1200.10v-3.2M150.87,950.40v3.2M192.25,1200.10v-3.2M192.25,950.40v3.2M233.64,1200.10v-3.2M233.64,950.40v3.2M275.03,1200.10v-3.2M275.03,950.40v3.2M316.41,1200.10v-3.2M316.41,950.40v3.2M40.50,1200.10h3.2M357.80,1200.10h-3.2M40.50,1175.13h3.2M357.80,1175.13h-3.2M40.50,1150.16h3.2M357.80,1150.16h-3.2M40.50,1125.19h3.2M357.80,1125.19h-3.2M40.50,1100.22h3.2M357.80,1100.22h-3.2M40.50,1075.25h3.2M357.80,1075.25h-3.2M40.50,1050.28h3.2M357.80,1050.28h-3.2M40.50,1025.31h3.2M357.80,1025.31h-3.2M40.50,1000.34h3.2M357.80,1000.34h-3.2M40.50,975.37h3.2M357.80,975.37h-3.2M40.50,950.40h3.2M357.80,950.40h-3.2" stroke="#888888" stroke-width="1" fill="none"/><text class="s" x="68.09" y="1211.30" font-size="10.8" text-anchor="middle">0.5</text><text class="s" x="109.48" y="1211.30" font-size="10.8" text-anchor="middle">1</text><text class="s" x="150.87" y="1211.30" font-size="10.8" text-anchor="middle">1.5</text><text class="s" x="192.25" y="1211.30" font-size="10.8" text-anchor="middle">2</text><text class="s" x="233.64" y="1211.30" font-size="10.8" text-anchor="middle">2.5</text><text class="s" x="275.03" y="1211.30" font-size="10.8" text-anchor="middle">3</text><text class="s" x="316.41" y="1211.30" font-size="10.8" text-anchor="middle">3.5</text><text class="s" x="357.80" y="1211.30" font-size="10.8" text-anchor="middle">4</text><text class="s" x="38.30" y="1203.70" font-size="10.8" text-anchor="end">0</text><text class="s" x="38.30" y="1178.73" font-size="10.8" text-anchor="end">0.1</text><text class="s" x="38.30" y="1153.76" font-size="10.8" text-anchor="end">0.2</text><text class="s" x="38.30" y="1128.79" font-size="10.8" text-anchor="end">0.3</text><text class="s" x="38.30" y="1103.82" font-size="10.8" text-anchor="end">0.4</text><text class="s" x="38.30" y="1078.85" font-size="10.8" text-anchor="end">0.5</text><text class="s" x="38.30" y="1053.88" font-size="10.8" text-anchor="end">0.6</text><text class="s" x="38.30" y="1028.91" font-size="10.8" text-anchor="end">0.7</text><text class="s" x="38.30" y="1003.94" font-size="10.8" text-anchor="end">0.8</text><text class="s" x="38.30" y="978.97" font-size="10.8" text-anchor="end">0.9</text><text class="s" x="38.30" y="954.00" font-size="10.8" text-anchor="end">1</text><text class="e" x="67.30" y="1222.90" font-size="13.0" textLength="262.0" lengthAdjust="spacingAndGlyphs">Processing Window (in seconds)</text><text class="e" transform="translate(13.70,1210.70) rotate(-90)" font-size="13.0" textLength="271.5" lengthAdjust="spacingAndGlyphs">Pearson Correlation Coefficient</text><rect x="211.80" y="953.50" width="142.70" height="46.60" fill="#fff" stroke="#888888" stroke-width="1.1"/><line x1="217.00" x2="245.00" y1="960.10" y2="960.10" stroke="#151515" stroke-width="1.5"/><text class="lg" x="247.80" y="963.60" font-size="9.8" textLength="39.30" lengthAdjust="spacingAndGlyphs">Global</text><line x1="217.00" x2="245.00" y1="971.30" y2="971.30" stroke="#3450a2" stroke-width="1.5"/><text class="lg" x="247.80" y="974.80" font-size="9.8" textLength="91.70" lengthAdjust="spacingAndGlyphs">Midline Region</text><line x1="217.00" x2="245.00" y1="982.50" y2="982.50" stroke="#d62a28" stroke-width="1.5"/><text class="lg" x="247.80" y="986.00" font-size="9.8" textLength="45.85" lengthAdjust="spacingAndGlyphs">Midline</text><line x1="217.00" x2="245.00" y1="993.70" y2="993.70" stroke="#5eb449" stroke-width="1.5"/><text class="lg" x="247.80" y="997.20" font-size="9.8" textLength="98.25" lengthAdjust="spacingAndGlyphs">Lateral regions</text></g><g><text class="t" x="608.25" y="941.70" font-size="15.0" text-anchor="middle" textLength="119.5" lengthAdjust="spacingAndGlyphs">Subject P04</text><g clip-path="url(#c7)" fill="none" stroke-width="1.8" stroke-linejoin="round"><polyline points="449.60,1175.63 463.40,1180.87 477.19,1177.13 490.99,1163.39 504.78,1151.91 518.58,1148.41 532.37,1149.66 546.17,1154.40 559.97,1161.15 573.76,1162.40 587.56,1161.40 601.35,1159.15 615.15,1156.40 628.94,1160.65 642.74,1166.14 656.53,1173.13 670.33,1178.38 684.13,1183.12 697.92,1183.37 711.72,1178.38 725.51,1175.63 739.31,1186.12 753.10,1191.61 766.90,1186.62" stroke="#151515"/><polyline points="449.60,1164.64 463.40,1169.89 477.19,1167.14 490.99,1154.40 504.78,1141.67 518.58,1143.67 532.37,1149.16 546.17,1155.40 559.97,1169.14 573.76,1173.38 587.56,1173.38 601.35,1167.64 615.15,1157.15 628.94,1151.91 642.74,1151.16 656.53,1151.91 670.33,1152.66 684.13,1151.16 697.92,1150.91 711.72,1150.91 725.51,1150.91 739.31,1150.91 753.10,1151.66 766.90,1153.66" stroke="#3450a2"/><polyline points="449.60,1154.90 463.40,1156.40 477.19,1152.91 490.99,1144.42 504.78,1137.43 518.58,1138.67 532.37,1140.67 546.17,1147.66 559.97,1153.66 573.76,1155.90 587.56,1152.66 601.35,1144.42 615.15,1133.18 628.94,1129.93 642.74,1130.68 656.53,1131.68 670.33,1132.93 684.13,1131.43 697.92,1130.18 711.72,1131.43 725.51,1136.43 739.31,1141.17 753.10,1146.41 766.90,1149.16" stroke="#d62a28"/><polyline points="449.60,1178.88 463.40,1168.89 477.19,1159.65 490.99,1153.91 504.78,1147.91 518.58,1145.42 532.37,1144.17 546.17,1144.17 559.97,1141.17 573.76,1138.92 587.56,1138.42 601.35,1137.43 615.15,1136.93 628.94,1132.43 642.74,1131.43 656.53,1131.43 670.33,1132.93 684.13,1135.43 697.92,1135.43 711.72,1134.18 725.51,1135.68 739.31,1136.43 753.10,1130.93 766.90,1125.69" stroke="#5eb449"/></g><rect x="449.60" y="950.40" width="317.30" height="249.70" fill="none" stroke="#888888" stroke-width="1.3"/><path d="M477.19,1200.10v-3.2M477.19,950.40v3.2M518.58,1200.10v-3.2M518.58,950.40v3.2M559.97,1200.10v-3.2M559.97,950.40v3.2M601.35,1200.10v-3.2M601.35,950.40v3.2M642.74,1200.10v-3.2M642.74,950.40v3.2M684.13,1200.10v-3.2M684.13,950.40v3.2M725.51,1200.10v-3.2M725.51,950.40v3.2M449.60,1200.10h3.2M766.90,1200.10h-3.2M449.60,1175.13h3.2M766.90,1175.13h-3.2M449.60,1150.16h3.2M766.90,1150.16h-3.2M449.60,1125.19h3.2M766.90,1125.19h-3.2M449.60,1100.22h3.2M766.90,1100.22h-3.2M449.60,1075.25h3.2M766.90,1075.25h-3.2M449.60,1050.28h3.2M766.90,1050.28h-3.2M449.60,1025.31h3.2M766.90,1025.31h-3.2M449.60,1000.34h3.2M766.90,1000.34h-3.2M449.60,975.37h3.2M766.90,975.37h-3.2M449.60,950.40h3.2M766.90,950.40h-3.2" stroke="#888888" stroke-width="1" fill="none"/><text class="s" x="477.19" y="1211.30" font-size="10.8" text-anchor="middle">0.5</text><text class="s" x="518.58" y="1211.30" font-size="10.8" text-anchor="middle">1</text><text class="s" x="559.97" y="1211.30" font-size="10.8" text-anchor="middle">1.5</text><text class="s" x="601.35" y="1211.30" font-size="10.8" text-anchor="middle">2</text><text class="s" x="642.74" y="1211.30" font-size="10.8" text-anchor="middle">2.5</text><text class="s" x="684.13" y="1211.30" font-size="10.8" text-anchor="middle">3</text><text class="s" x="725.51" y="1211.30" font-size="10.8" text-anchor="middle">3.5</text><text class="s" x="766.90" y="1211.30" font-size="10.8" text-anchor="middle">4</text><text class="s" x="447.40" y="1203.70" font-size="10.8" text-anchor="end">0</text><text class="s" x="447.40" y="1178.73" font-size="10.8" text-anchor="end">0.1</text><text class="s" x="447.40" y="1153.76" font-size="10.8" text-anchor="end">0.2</text><text class="s" x="447.40" y="1128.79" font-size="10.8" text-anchor="end">0.3</text><text class="s" x="447.40" y="1103.82" font-size="10.8" text-anchor="end">0.4</text><text class="s" x="447.40" y="1078.85" font-size="10.8" text-anchor="end">0.5</text><text class="s" x="447.40" y="1053.88" font-size="10.8" text-anchor="end">0.6</text><text class="s" x="447.40" y="1028.91" font-size="10.8" text-anchor="end">0.7</text><text class="s" x="447.40" y="1003.94" font-size="10.8" text-anchor="end">0.8</text><text class="s" x="447.40" y="978.97" font-size="10.8" text-anchor="end">0.9</text><text class="s" x="447.40" y="954.00" font-size="10.8" text-anchor="end">1</text><text class="e" x="476.40" y="1222.90" font-size="13.0" textLength="262.0" lengthAdjust="spacingAndGlyphs">Processing Window (in seconds)</text><text class="e" transform="translate(422.80,1210.70) rotate(-90)" font-size="13.0" textLength="271.5" lengthAdjust="spacingAndGlyphs">Pearson Correlation Coefficient</text><rect x="620.90" y="953.50" width="142.70" height="46.60" fill="#fff" stroke="#888888" stroke-width="1.1"/><line x1="626.10" x2="654.10" y1="960.10" y2="960.10" stroke="#151515" stroke-width="1.5"/><text class="lg" x="656.90" y="963.60" font-size="9.8" textLength="39.30" lengthAdjust="spacingAndGlyphs">Global</text><line x1="626.10" x2="654.10" y1="971.30" y2="971.30" stroke="#3450a2" stroke-width="1.5"/><text class="lg" x="656.90" y="974.80" font-size="9.8" textLength="91.70" lengthAdjust="spacingAndGlyphs">Midline Region</text><line x1="626.10" x2="654.10" y1="982.50" y2="982.50" stroke="#d62a28" stroke-width="1.5"/><text class="lg" x="656.90" y="986.00" font-size="9.8" textLength="45.85" lengthAdjust="spacingAndGlyphs">Midline</text><line x1="626.10" x2="654.10" y1="993.70" y2="993.70" stroke="#5eb449" stroke-width="1.5"/><text class="lg" x="656.90" y="997.20" font-size="9.8" textLength="98.25" lengthAdjust="spacingAndGlyphs">Lateral regions</text></g>
</svg>
</body></html>
